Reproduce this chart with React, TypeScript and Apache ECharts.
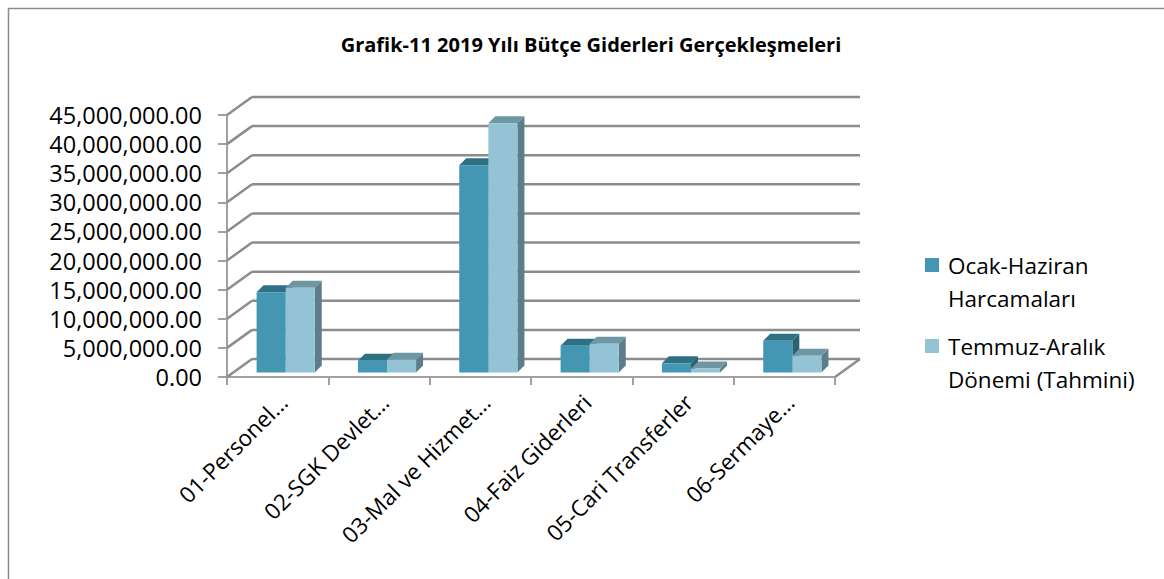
import React, { useEffect, useRef } from 'react';
import * as echarts from 'echarts';

const chartTitle = 'Grafik-11 2019 Yılı Bütçe Giderleri Gerçekleşmeleri';
const categories = ['01-Personel…', '02-SGK Devlet…', '03-Mal ve Hizmet…', '04-Faiz Giderleri', '05-Cari Transferler', '06-Sermaye…'];
const seriesNames = ['Ocak-Haziran Harcamaları', 'Temmuz-Aralık Dönemi (Tahmini)'];
const legendLines: Record<string, string> = {
  'Ocak-Haziran Harcamaları': 'Ocak-Haziran\nHarcamaları',
  'Temmuz-Aralık Dönemi (Tahmini)': 'Temmuz-Aralık\nDönemi (Tahmini)',
};
const ocakHaziran = [13780000, 2030000, 35600000, 4600000, 1580000, 5460000];
const temmuzAralik = [14570000, 2200000, 42800000, 4950000, 690000, 2890000];
const yTicks = [0, 5000000, 10000000, 15000000, 20000000, 25000000, 30000000, 35000000, 40000000, 45000000];

const FONT = '"Open Sans", sans-serif';
const GRID_COLOR = '#8c8c8c';

const barColors = [
  { front: '#4397b2', top: '#2e7185', side: '#2a6274' },
  { front: '#93c3d5', top: '#6e97a5', side: '#5e7d8a' },
];

function makeBarRenderer(s: number) {
  const c = barColors[s];
  return (params: any, api: any) => {
    const i = api.value(0);
    const v = api.value(1);
    const top = api.coord([i, v]);
    const base = api.coord([i, 0]);
    const band = api.size([1, 0])[0];
    const w = band * 0.287;
    const ox = band * 0.079;
    const oy = -4.5;
    const x0 = top[0] - w + s * w + ox;
    const yt = top[1] + oy;
    const yb = base[1] + oy;
    const dx = 7;
    const dy = 7;
    return {
      type: 'group',
      children: [
        {
          type: 'polygon',
          shape: { points: [[x0 + w, yt], [x0 + w + dx, yt - dy], [x0 + w + dx, yb - dy], [x0 + w, yb]] },
          style: { fill: c.side },
        },
        {
          type: 'polygon',
          shape: { points: [[x0, yt], [x0 + w, yt], [x0 + w + dx, yt - dy], [x0 + dx, yt - dy]] },
          style: { fill: c.top },
        },
        {
          type: 'rect',
          shape: { x: x0, y: yt, width: w, height: yb - yt },
          style: { fill: c.front },
        },
      ],
    };
  };
}

function renderWalls(params: any, api: any) {
  const cs = params.coordSys;
  const v = api.value(1);
  const y = api.coord([0, v])[1];
  const fx = cs.x;
  const rx = cs.x + cs.width;
  const DX = 25;
  const DY = 18;
  const style = { stroke: GRID_COLOR, lineWidth: 2.5, fill: 'none' };
  const children: any[] = [
    { type: 'line', shape: { x1: fx, y1: y, x2: fx + DX, y2: y - DY }, style },
    { type: 'line', shape: { x1: fx + DX, y1: y - DY, x2: rx + DX, y2: y - DY }, style },
  ];
  if (v === 0) {
    children.push({ type: 'line', shape: { x1: rx, y1: y, x2: rx + DX, y2: y - DY }, style });
  }
  return { type: 'group', children };
}

export default function App() {
  const ref = useRef<HTMLDivElement>(null);
  useEffect(() => {
    if (!ref.current) return;
    const chart = echarts.init(ref.current, undefined, { renderer: 'svg' });
    chart.setOption({
      animation: false,
      backgroundColor: '#ffffff',
      title: {
        text: chartTitle,
        left: 586,
        top: 29,
        textAlign: 'center',
        textStyle: { fontFamily: FONT, fontSize: 20, fontWeight: 'bold', color: '#000' },
      },
      graphic: [
        {
          type: 'rect',
          silent: true,
          z: -10,
          shape: { x: 8.5, y: 8.5, width: 1300, height: 700 },
          style: { fill: 'none', stroke: '#8c8c8c', lineWidth: 1.5 },
        },
      ],
      legend: {
        data: seriesNames,
        orient: 'vertical',
        left: 925,
        top: 215.5,
        padding: 0,
        itemGap: -18,
        itemWidth: 14,
        itemHeight: 14,
        icon: 'rect',
        formatter: (name: string) => '\n' + legendLines[name],
        textStyle: { fontFamily: FONT, fontSize: 22.5, lineHeight: 33, color: '#000', padding: [0, 0, 0, 4] },
      },
      grid: { left: 227, right: 329, top: 115, bottom: 202 },
      xAxis: {
        type: 'category',
        data: categories,
        boundaryGap: true,
        axisLine: { lineStyle: { color: '#a0a0a0', width: 2 } },
        axisTick: { show: true, interval: 0, length: 8, lineStyle: { color: '#a0a0a0', width: 2 } },
        axisLabel: {
          interval: 0,
          rotate: 45,
          margin: 27,
          padding: [0, -8, 0, 0],
          fontFamily: FONT,
          fontSize: 22.5,
          color: '#000',
        },
        splitLine: { show: false },
      },
      yAxis: {
        type: 'value',
        min: 0,
        max: 45000000,
        interval: 5000000,
        axisLine: { show: true, lineStyle: { color: '#a0a0a0', width: 2 } },
        axisTick: { show: true, length: 9, lineStyle: { color: '#a0a0a0', width: 2 } },
        axisLabel: {
          margin: 25,
          fontFamily: FONT,
          fontSize: 23.5,
          color: '#000',
          formatter: (v: number) => v.toLocaleString('en-US', { minimumFractionDigits: 2, maximumFractionDigits: 2 }),
        },
        splitLine: { show: false },
      },
      series: [
        {
          type: 'custom',
          name: 'walls',
          z: 1,
          silent: true,
          renderItem: renderWalls,
          data: yTicks.map((v) => [0, v]),
          encode: { x: 0, y: 1 },
        },
        {
          type: 'custom',
          name: seriesNames[0],
          z: 2,
          itemStyle: { color: barColors[0].front },
          renderItem: makeBarRenderer(0),
          data: ocakHaziran.map((v, i) => [i, v]),
          encode: { x: 0, y: 1 },
        },
        {
          type: 'custom',
          name: seriesNames[1],
          z: 3,
          itemStyle: { color: barColors[1].front },
          renderItem: makeBarRenderer(1),
          data: temmuzAralik.map((v, i) => [i, v]),
          encode: { x: 0, y: 1 },
        },
      ],
    });
    return () => chart.dispose();
  }, []);
  return <div ref={ref} style={{ position: 'absolute', left: 0, top: 0, width: 1164, height: 579 }} />;
}
